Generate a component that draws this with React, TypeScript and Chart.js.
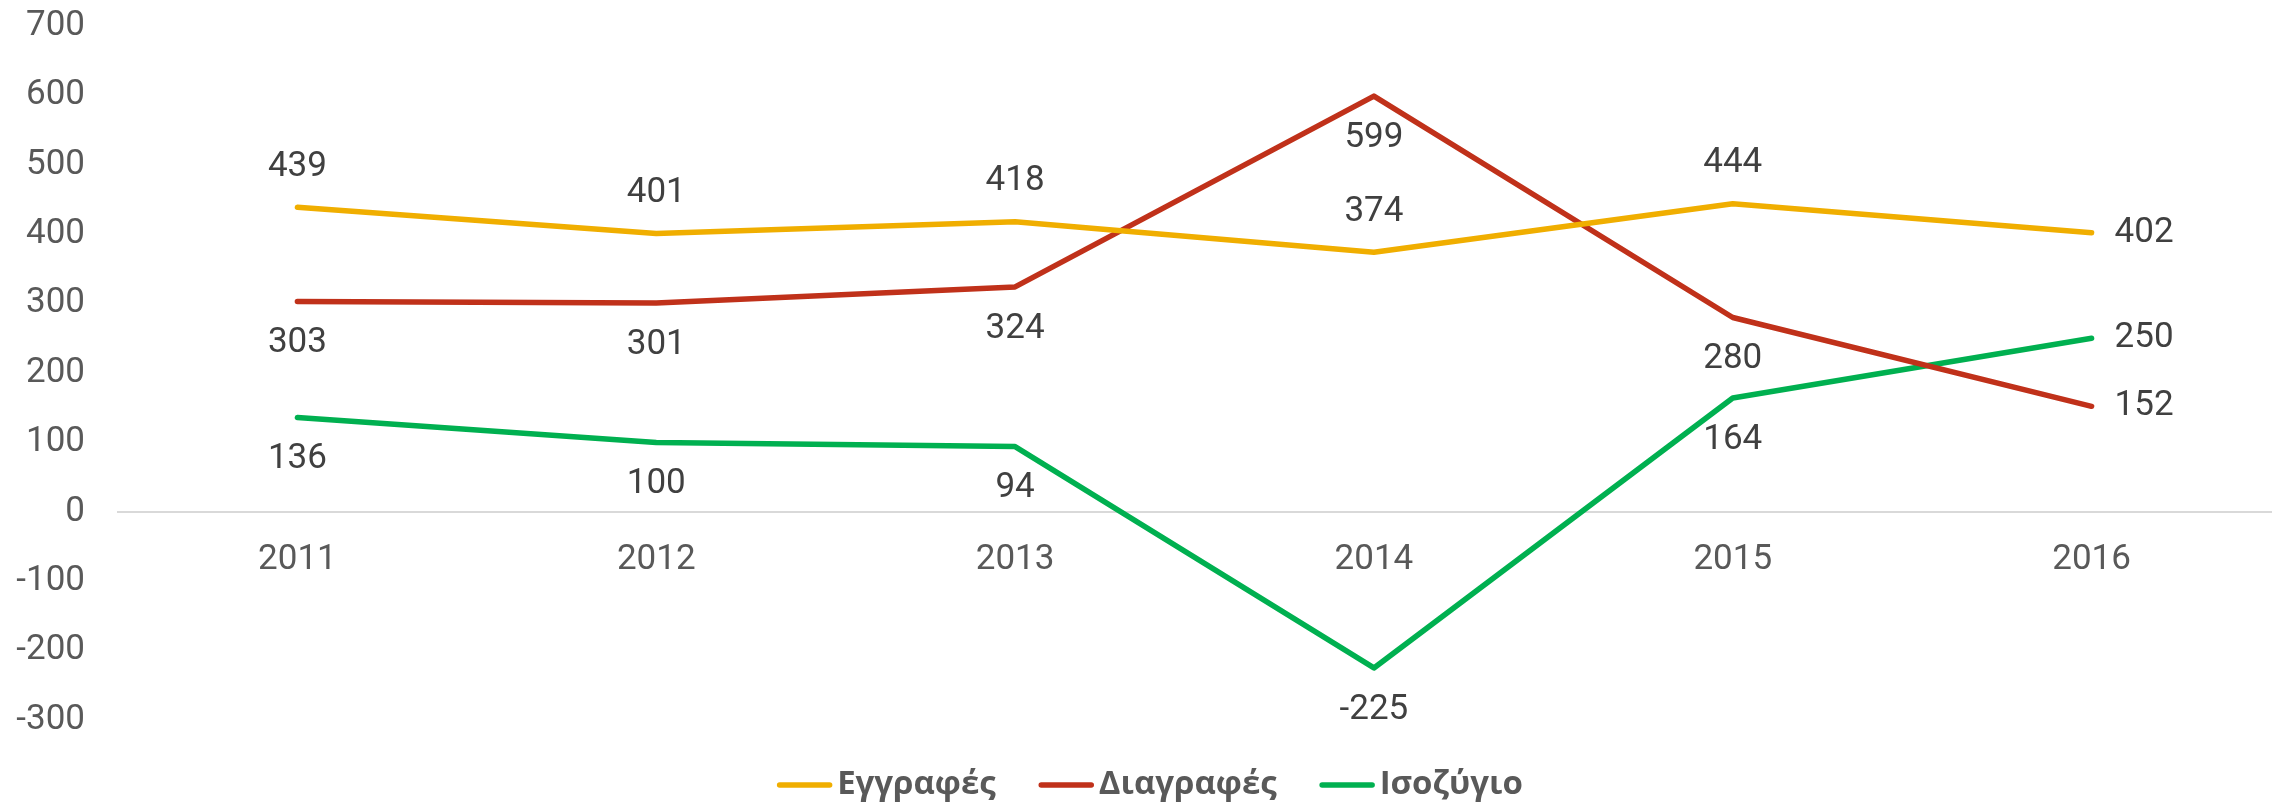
import React, { useEffect, useRef } from "react";
import { Chart, registerables } from "chart.js";

Chart.register(...registerables);

// ---- data ----
const years = ["2011", "2012", "2013", "2014", "2015", "2016"];
const registrations = [439, 401, 418, 374, 444, 402];
const deletions = [303, 301, 324, 599, 280, 152];
const balance = [136, 100, 94, -225, 164, 250];
const seriesNames = ["Εγγραφές", "Διαγραφές", "Ισοζύγιο"];
const yMin = -300;
const yMax = 700;
const yStep = 100;

// ---- styles ----
const seriesColors = ["#F0AE00", "#C0311A", "#00B050"];
const labelPlacement = [
  ["above", "above", "above", "above", "above", "right"],
  ["below", "below", "below", "below", "below", "right"],
  ["below", "below", "below", "below", "below", "right"],
];
const numberFont = "Roboto";
const legendFont = "bold 33px 'Open Sans'";
const legendCenterX = 1150;
const legendCenterY = 785;
const lineThickness = 5.5;

const valueLabelPlugin = {
  id: "valueLabels",
  afterDatasetsDraw(chart: any) {
    const ctx = chart.ctx;
    ctx.save();
    ctx.font = `35px ${numberFont}`;
    ctx.fillStyle = "#404040";
    ctx.textBaseline = "middle";
    chart.data.datasets.forEach((ds: any, i: number) => {
      const meta = chart.getDatasetMeta(i);
      meta.data.forEach((pt: any, j: number) => {
        const v = ds.data[j];
        const place = labelPlacement[i][j];
        let x = pt.x;
        let y = pt.y;
        if (place === "above") {
          ctx.textAlign = "center";
          y -= 40;
        } else if (place === "below") {
          ctx.textAlign = "center";
          y += 42;
        } else {
          ctx.textAlign = "left";
          x += 23;
        }
        ctx.fillText(String(v), x, y);
      });
    });
    ctx.restore();
  },
};

const legendPlugin = {
  id: "bottomLegend",
  afterDraw(chart: any) {
    const ctx = chart.ctx;
    const lineLen = 55;
    const lineToText = 5;
    const itemGap = 43;
    ctx.save();
    ctx.font = legendFont;
    const widths = seriesNames.map((n) => ctx.measureText(n).width);
    const total =
      widths.reduce((a, b) => a + b, 0) +
      seriesNames.length * (lineLen + lineToText) +
      (seriesNames.length - 1) * itemGap;
    let x = legendCenterX - total / 2;
    seriesNames.forEach((name, i) => {
      ctx.strokeStyle = seriesColors[i];
      ctx.lineWidth = lineThickness;
      ctx.lineCap = "round";
      ctx.beginPath();
      ctx.moveTo(x + 2.5, legendCenterY);
      ctx.lineTo(x + lineLen - 2.5, legendCenterY);
      ctx.stroke();
      x += lineLen + lineToText;
      ctx.fillStyle = "#595959";
      ctx.textAlign = "left";
      ctx.textBaseline = "middle";
      ctx.fillText(name, x, legendCenterY);
      x += widths[i] + itemGap;
    });
    ctx.restore();
  },
};

export default function App() {
  const ref = useRef<HTMLCanvasElement | null>(null);

  useEffect(() => {
    if (!ref.current) return;
    const seriesData = [registrations, deletions, balance];
    const chart = new Chart(ref.current, {
      type: "line",
      data: {
        labels: years,
        datasets: seriesData.map((d, i) => ({
          label: seriesNames[i],
          data: d,
          borderColor: seriesColors[i],
          backgroundColor: seriesColors[i],
          borderWidth: lineThickness,
          borderCapStyle: "round" as const,
          borderJoinStyle: "round" as const,
          pointRadius: 0,
          pointHoverRadius: 0,
          tension: 0,
          fill: false,
        })),
      },
      options: {
        responsive: false,
        animation: false,
        layout: { padding: { left: 0, right: 9, top: 0, bottom: 0 } },
        plugins: {
          tooltip: { enabled: false },
          legend: { display: false },
        },
        scales: {
          x: {
            position: { y: 0 } as any,
            offset: true,
            grid: { display: false, drawTicks: false },
            border: { display: true, color: "#D9D9D9", width: 2 },
            ticks: {
              font: { family: numberFont, size: 35 },
              color: "#595959",
              padding: 27,
            },
          },
          y: {
            min: yMin,
            max: yMax,
            grid: { display: false, drawTicks: false },
            border: { display: false },
            ticks: {
              stepSize: yStep,
              font: { family: numberFont, size: 35 },
              color: "#595959",
              padding: 33,
            },
            afterFit(scale: any) {
              scale.width = 118;
              scale.paddingTop = 26;
              scale.paddingBottom = 88;
            },
          },
        },
      },
      plugins: [valueLabelPlugin, legendPlugin],
    });
    return () => chart.destroy();
  }, []);

  return (
    <div style={{ position: "absolute", left: 0, top: 0, width: 2280, height: 808, background: "#fff" }}>
      <canvas ref={ref} width={2280} height={808} style={{ display: "block" }} />
    </div>
  );
}
